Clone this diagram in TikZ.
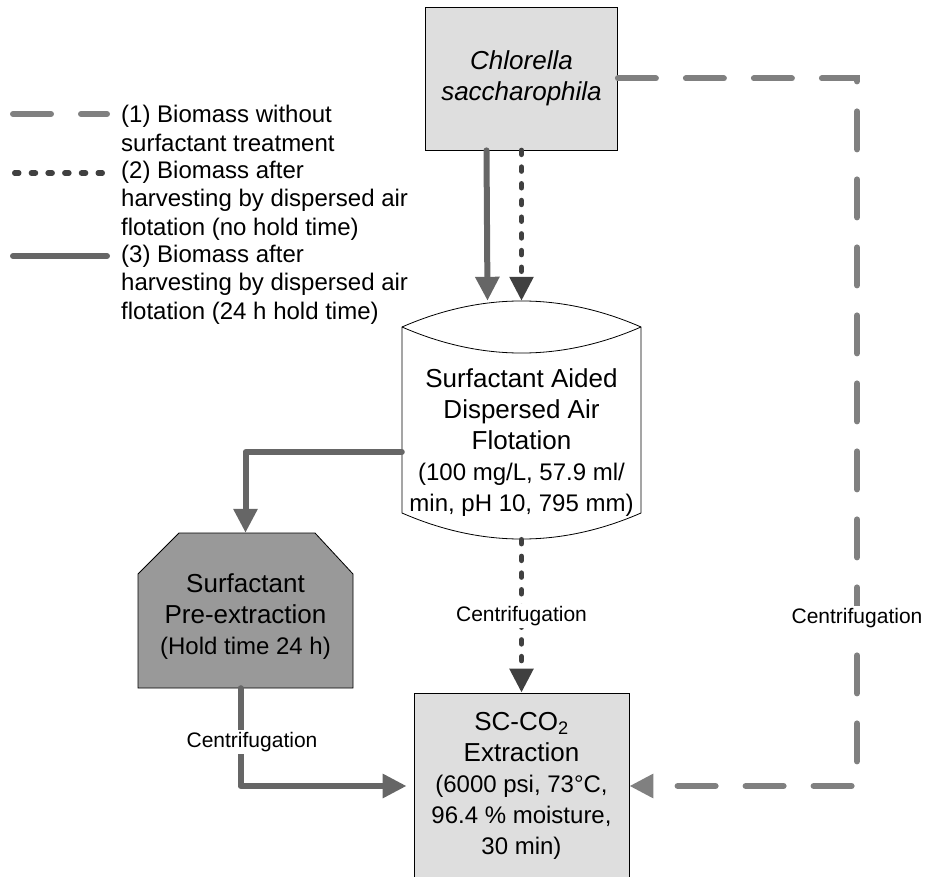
\documentclass[tikz,border=0pt]{standalone}
\usepackage{fontspec}
\setmainfont{Liberation Sans}
\usetikzlibrary{arrows.meta,calc}

\definecolor{boxgray}{HTML}{DEDEDE}
\definecolor{octgray}{HTML}{999999}
\definecolor{solidgray}{HTML}{666666}
\definecolor{dotgray}{HTML}{404040}
\definecolor{dashgray}{HTML}{808080}
\newcommand{\boxtxt}{\fontsize{26}{31}\selectfont}
\newcommand{\infotxt}{\fontsize{24}{29}\selectfont}

\begin{document}
\begin{tikzpicture}[x=1pt,y=-1pt,
    tip/.style={-{Triangle[width=23pt,length=24pt]}},
    solidline/.style={solidgray,line width=6pt,line cap=round,line join=round},
    dotline/.style={dotgray,line width=5.5pt,line cap=round,dash pattern=on 4pt off 12.7pt},
    dashline/.style={dashgray,line width=6pt,line cap=round,dash pattern=on 38pt off 30pt},
    proc/.style={draw=black,line width=0.8pt,fill=boxgray,align=center,inner sep=0pt,font=\boxtxt},
    txt/.style={align=center,inner sep=0pt,font=\boxtxt},
    lbl/.style={fill=white,text=black,inner sep=2pt,font=\fontsize{21}{25}\selectfont},
    legend/.style={align=left,anchor=west,inner sep=0pt,font=\fontsize{24}{28.5}\selectfont}]
  \useasboundingbox (0,0) rectangle (926,877);

  % legend
  \draw[dashline] (13,114) -- (107,114);
  \draw[dotline] (14.75,173) -- (105,173);
  \draw[solidline] (13,256) -- (107,256);
  \node[legend] (l1) at (121,128.5) {(1) Biomass without\\surfactant treatment};
  \node[legend] (l2) at (121,200.5) {(2) Biomass after\\harvesting by dispersed air\\flotation (no hold time)};
  \node[legend] (l3) at (121,284.5) {(3) Biomass after\\harvesting by dispersed air\\flotation (24 h hold time)};

  % process boxes
  \node[proc,minimum width=192,minimum height=143] (chl) at (521.5,78.5) {\textit{Chlorella}\\\textit{saccharophila}};
  \draw[fill=white,line width=0.8pt] (402,327) -- (402,513) .. controls (481.7,547.7) and (561.3,547.7) .. (641,513)
    -- (641,327) .. controls (561.3,292.3) and (481.7,292.3) .. (402,327) -- cycle;
  \draw[line width=0.8pt] (402,327) .. controls (481.7,361.7) and (561.3,361.7) .. (641,327);
  \node[txt,minimum width=239,minimum height=194] (daf) at (521.5,442.5)
    {Surfactant Aided\\Dispersed Air\\Flotation\\\infotxt(100 mg/L, 57.9 ml/\\\infotxt min, pH 10, 795 mm)};
  \filldraw[fill=octgray,line width=0.8pt] (138,574) -- (179,533) -- (315,533) -- (353,574) -- (353,688) -- (138,688) -- cycle;
  \node[txt,minimum width=215,minimum height=143] (pre) at (245.5,616.5) {Surfactant\\Pre-extraction\\\infotxt(Hold time 24 h)};
  \node[proc,minimum width=215,minimum height=186,font=\fontsize{26}{31}\selectfont] (sc) at (521.5,786)
    {SC-CO\textsubscript{2}\\Extraction\\\infotxt(6000 psi, 73°C,\\\infotxt 96.4 \% moisture,\\\infotxt 30 min)};

  % connectors
  \draw[solidline,tip] ([xshift=-35pt]chl.south) -- ([xshift=-34pt,yshift=44.5pt]daf.north);
  \draw[dotline,tip] (chl.south) -- ([yshift=44.5pt]daf.north);
  \draw[solidline,tip] ([yshift=-9.5pt]daf.west) -| ([yshift=12pt]pre.north);
  \draw[solidline,tip,shorten >=7pt] ([xshift=-5pt]pre.south) |- (sc.west);
  \node[lbl] (c1) at (252,742) {Centrifugation};
  \draw[dotline,tip] (daf.south) -- node[lbl] (c2) {Centrifugation} (sc.north);
  \coordinate (turn) at (857,786);
  \draw[dashline,tip] (chl.east) -| (turn) -- (sc.east);
  \node[lbl] (c3) at (857,618) {Centrifugation};
\end{tikzpicture}
\end{document}
